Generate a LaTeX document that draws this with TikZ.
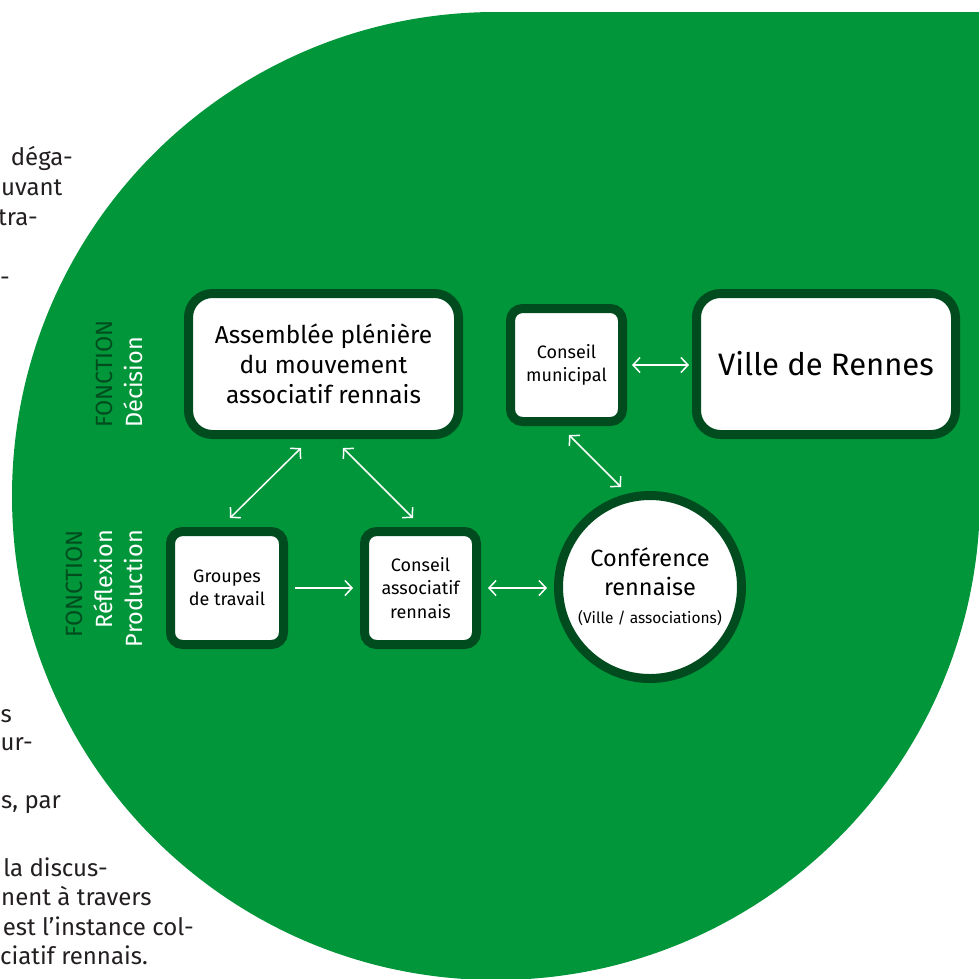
\documentclass[tikz,border=0pt]{standalone}
\usepackage{fontspec}
\setmainfont{Fira Sans}
\usepackage{xcolor}
\usetikzlibrary{arrows.meta}
\definecolor{rennesgreen}{RGB}{0,150,57}
\definecolor{borderdark}{RGB}{0,76,30}
\definecolor{pagetext}{RGB}{35,31,32}
\tikzset{instance/.style={draw=borderdark,line width=9pt,fill=white,align=center,inner sep=0pt,text=black},
         bigbox/.style={instance,rounded corners=24pt,minimum width=270pt,minimum height=141pt},
         smallbox/.style={instance,rounded corners=12pt,minimum width=112pt,minimum height=113pt,
                          font=\fontsize{18}{23.5}\selectfont},
         meeting/.style={instance,circle,minimum size=183pt,font=\fontsize{23.5}{28.5}\selectfont},
         twoway/.style={{Straight Barb[length=7pt,width=15pt]}-{Straight Barb[length=7pt,width=15pt]},
                        white,line width=1.5pt},
         oneway/.style={-{Straight Barb[length=7pt,width=15pt]},white,line width=1.5pt},
         fonction/.style={rotate=90,inner sep=0pt,font=\fontsize{23.5}{27}\selectfont},
         pageline/.style={anchor=base east,inner sep=0pt,text=pagetext,font=\fontsize{24}{30}\selectfont},
         }

\begin{document}
\begin{tikzpicture}[x=1pt,y=-1pt]
\useasboundingbox (0,0) rectangle (979,978);
\clip (0,0) rectangle (979,978);
\fill[rennesgreen] (496,496) circle (484);
\fill[rennesgreen] (496,12) rectangle (990,496);

\node[pageline] (p1) at (73,165) {déga-};
\node[pageline,anchor=base west] (p2) at (1,195) {uvant};
\node[pageline] (p3) at (38,225) {tra-};
\node[pageline] (p4) at (10,285) {-};
\node[pageline] (p5) at (12,722) {s};
\node[pageline] (p6) at (33,750) {ur-};
\node[pageline,anchor=base west] (p7) at (1,808) {s, par};
\node[pageline] (p8) at (108,876) {la discus-};
\node[pageline,anchor=base west] (p9) at (1,905) {nent à travers};
\node[pageline] (p10) at (194,935) {est l’instance col-};
\node[pageline] (p11) at (148,964) {ciatif rennais.};

\node[bigbox,font=\fontsize{24.5}{30}\selectfont] (assemblee) at (323.5,364)
  {Assemblée plénière\\du mouvement\\associatif rennais};
\node[bigbox,minimum width=259pt,font=\fontsize{31}{36}\selectfont] (ville) at (826,364) {Ville de Rennes};
\node[smallbox] (conseilmun) at (566.5,365) {Conseil\\municipal};
\node[smallbox,minimum width=113pt] (groupes) at (227,588) {Groupes\\de travail};
\node[smallbox] (conseilasso) at (420.5,588) {Conseil\\associatif\\rennais};
\node[meeting] (conference) at (650,587)
  {Conférence\\rennaise\\{\fontsize{15.5}{18}\selectfont(Ville / associations)}};

\node[fonction,anchor=base west,text=borderdark] (fdec) at (112,428) {FONCTION};
\node[fonction,anchor=base west,text=white] (decision) at (142,428) {Décision};
\node[fonction,anchor=base east,text=borderdark] (fprod) at (82,530) {FONCTION};
\node[fonction,anchor=base east,text=white] (reflexion) at (112,530) {Réflexion};
\node[fonction,anchor=base east,text=white] (production) at (142,530) {Production};

\draw[twoway] ([xshift=-22.5pt,yshift=-9pt]assemblee.south) -- ([xshift=3pt,yshift=9pt]groupes.north);
\draw[twoway] ([xshift=19.5pt,yshift=-9pt]assemblee.south) -- ([xshift=-7.5pt,yshift=9pt]conseilasso.north);
\draw[oneway,shorten <=7pt,shorten >=7pt] (groupes.east) -- (conseilasso.west);
\draw[twoway,shorten <=7pt,shorten >=7pt] (conseilasso.east) -- (conseilasso.east -| conference.west);
\draw[twoway,shorten <=5pt,shorten >=3pt] (conseilmun.east) -- (conseilmun.east -| ville.west);
\draw[twoway] ([xshift=2.5pt,yshift=-9pt]conseilmun.south) -- ([xshift=-29pt,yshift=4pt]conference.north);
\end{tikzpicture}
\end{document}
